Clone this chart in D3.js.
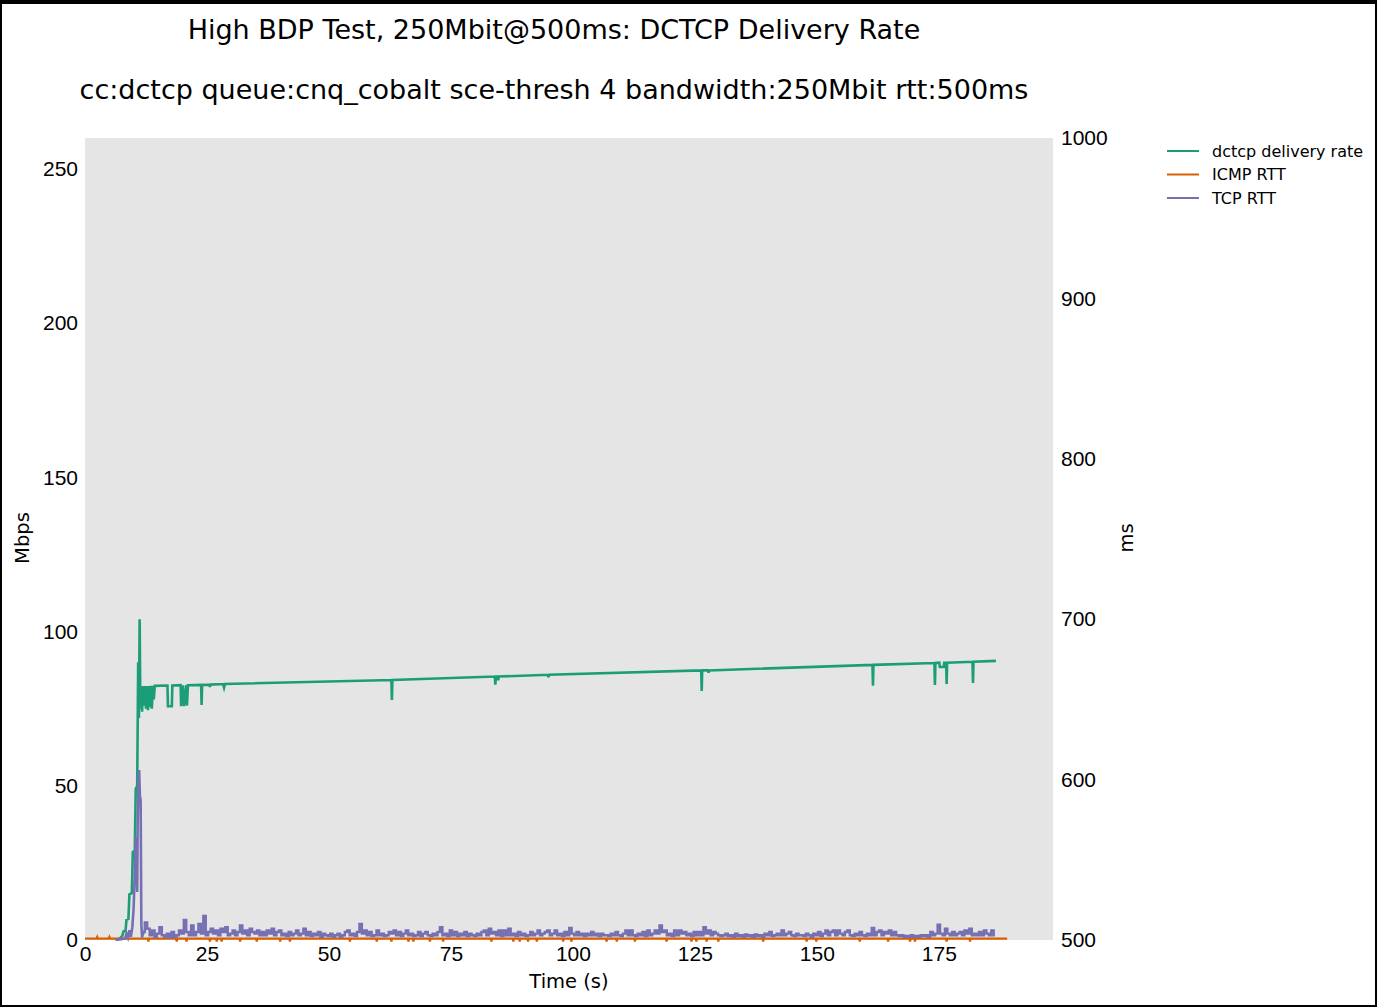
<!DOCTYPE html>
<html>
<head>
<meta charset="utf-8">
<script src="https://cdn.jsdelivr.net/npm/d3@7"></script>
<style>
body { margin: 0; background: #fff; }
svg { display: block; font-family: "DejaVu Sans", sans-serif; }
</style>
</head>
<body>
<div id="graph"></div>
<script>
// --- data ---
var seriesNames = ["dctcp delivery rate", "ICMP RTT", "TCP RTT"];
var seriesColors = ["#1b9e77", "#d95f02", "#7570b3"];
var xTicks = [0, 25, 50, 75, 100, 125, 150, 175];
var yLeftTicks = [0, 50, 100, 150, 200, 250];
var yRightTicks = [500, 600, 700, 800, 900, 1000];

// delivery rate (Mbps), [time s, value]
var rateData = [
	[6.5,0],[7.2,0.6],[7.6,1.2],[7.9,2.8],[8.3,2.9],[8.5,6.5],[8.9,6.8],[9.1,14.8],[9.6,15.2],
	[9.8,28.5],[10.2,29],[10.4,49],[10.7,50],[10.9,90],[11.05,72],[11.2,104],[11.35,75],[11.5,82.2],
	[11.7,74],[11.9,82.3],[12.1,76],[12.3,82.3],[12.5,75],[12.7,82.3],[12.9,74.5],[13.1,82.3],
	[13.3,75.5],[13.5,82.4],[13.7,75],[13.9,82.4],[14.1,78],[14.3,82.4],
	[16.9,82.5],[17.0,75.8],[17.8,75.8],[17.9,82.5],
	[19.6,82.6],[19.7,75.8],[20.1,82.6],[20.3,75.8],[20.8,82.6],[20.9,76],[21.1,82.6],
	[23.8,82.7],[23.9,76.2],[24.0,82.7],
	[25.5,82.8],[25.6,82],[25.7,82.8],
	[28.3,83],[28.5,81.8],[28.7,83],
	[62.8,84.3],[62.9,77.8],[63.0,84.3],
	[84.0,85.4],[84.1,82.8],[84.2,85.4],[84.6,85.4],[84.7,84.2],[84.8,85.4],
	[94.9,86.0],[95.0,85.2],[95.1,86.0],
	[126.3,87.4],[126.4,80.7],[126.5,87.4],[127.7,87.4],[127.8,86.6],[127.9,87.4],
	[161.4,89.2],[161.5,82.4],[161.6,89.2],
	[174.1,89.8],[174.2,82.7],[174.3,89.8],[175.1,89.9],[175.2,88.5],[176.0,88.5],[176.1,89.9],
	[176.5,89.9],[176.6,83],[176.7,89.9],
	[181.9,90.2],[182.0,83.3],[182.1,90.2],
	[186.7,90.5]
];

// ICMP RTT (ms): flat level with short dips
var icmpStart = 0, icmpEnd = 189, icmpLevel = 500.9;
var icmpBumps = [[2.5,502],[5.0,502]];
var icmpDips = [13.0,18.8,20.8,25.6,27,28,31.8,35.2,40,42,54.3,59.8,62.8,66.3,67.3,70.7,73.4,
	83.3,87.8,89.1,90.8,92.6,98,99.7,106.9,109,112.7,119.2,124.3,125.3,127.4,129.8,139,
	147.9,149.9,158.8,164.6,169.1,170.1,176.6,181.4];
var icmpDipValue = 499;

// TCP RTT (ms): ramp-up spike, then samples every 0.5 s from 12 s
var tcpRamp = [
	[6.2,500.2],[7.5,500.5],[8.2,501],[8.5,504],[8.8,501.5],[9.1,506],[9.4,502],[9.7,508],
	[9.95,519],[10.2,540],[10.4,564],[10.55,560],[10.7,530],[10.8,575],[10.95,598],[11.1,606],
	[11.25,590],[11.4,587],[11.55,510],[11.7,501.5],[11.85,504]
];
var tcpStart = 12, tcpStep = 0.5;
var tcpValues = [
	505,511,507,503,506,502,504,508,503,502,
	504,501.5,505,502,503,506,504,512.5,505,503,
	509,503,505,510,504,515,503,505,507,504,
	506,503,507,505,508,503,504,506,503,505,
	509,504,506,503,507,505,504,506,503,505,
	503,506,504,507,503,505,506,503,504,502.5,
	505,503,504,506,503,504,507,503,505,502.5,
	504,503,505,502,504,503,502.5,504,502,503,
	504,502,503,505,506,503,504,502.5,505,510,
	504,506,503,505,502.5,503,506,503,504,502.5,
	503,505,504,506,503,505,502.5,504,506,503,
	504,502.5,503,505,502.5,504,505,503,502.5,504,
	503,505,508,503,504,502.5,506,503,505,502.5,
	504,503,505,502.5,504,503,502.5,504,503,505,
	506,503,507,504,505,503,506,502.5,506,503,
	507,503,504,502.5,505,503,504,502.5,503,505,
	503,504,506,503,504,505,506,503,504,506,
	503,504,502.5,505,503,507.5,504,503,505,503,
	504,502.5,504,503,505,503,504,502.5,504,503,
	503,502.5,504,503,505,503,502.5,504,506,503,
	506,503,502.5,504,503,505,502.5,506,503,504,
	506,504,509,505,506,503,504,502.5,506,503,
	506,504,505,503,504,502.5,505,503,505,503,
	508,504,506,503,505,504,503,502.5,503,504,
	502.5,503,502,504,502.5,503,502,503.5,502.5,503,
	502,503.5,502.5,503,502,504,503,505,502.5,503,
	504,503,506,503,504,505,503,502.5,504,503,
	503,502.5,504,503,502,504,503,505,502.5,504,
	506,503,505,506,503,506,504,503,505,506,
	503,502.5,504,503,505,503,502.5,504,503,507.5,
	503,505,506,503,505,504,506,503,505,503,
	502.5,503,502,502.5,502,503,502,502.5,502,503,
	502.5,503,502,505,503,504,509.5,504,503,507,
	504,503,505,503,504,505,503,506,504,507,
	503,504,503,505,503,506,504,503,506,503
];

// --- build the point tables ---
var icmpData = [[icmpStart, icmpLevel]];
icmpBumps.concat(icmpDips.map(function(t) { return [t, icmpDipValue]; }))
	.sort(function(a, b) { return a[0] - b[0]; })
	.forEach(function(d) {
		icmpData.push([d[0] - 0.15, icmpLevel], d, [d[0] + 0.15, icmpLevel]);
	});
icmpData.push([icmpEnd, icmpLevel]);

var tcpData = tcpRamp.concat(tcpValues.map(function(v, i) { return [tcpStart + i * tcpStep, v]; }));

// --- layout ---
var W = 1377, H = 1007;
var plot = {left: 85, right: 1053, top: 138, bottom: 940};

var svg = d3.select("#graph").append("svg").attr("width", W).attr("height", H);

svg.append("rect").attr("x", 1).attr("y", 1).attr("width", W - 2).attr("height", H - 2)
	.attr("fill", "#fff").attr("stroke", "#000").attr("stroke-width", 2);
svg.append("rect").attr("x", 0).attr("y", 0).attr("width", W).attr("height", 4).attr("fill", "#000");

var x = d3.scaleLinear().domain([0, 198.4]).range([plot.left, plot.right]);
var yL = d3.scaleLinear().domain([0, 260]).range([plot.bottom, plot.top]);
var yR = d3.scaleLinear().domain([500, 1000]).range([plot.bottom, plot.top]);

svg.append("rect")
	.attr("x", plot.left).attr("y", plot.top)
	.attr("width", plot.right - plot.left).attr("height", plot.bottom - plot.top)
	.attr("fill", "#e5e5e5");

// axes: labels only, no lines or ticks
function bare(g) {
	g.select(".domain").remove();
	g.selectAll(".tick line").remove();
	g.selectAll(".tick text").attr("fill", "#000").attr("font-size", 21);
}

svg.append("g").attr("transform", "translate(0," + plot.bottom + ")")
	.call(d3.axisBottom(x).tickValues(xTicks).tickSize(0).tickPadding(6))
	.call(bare);
svg.append("g").attr("transform", "translate(" + plot.left + ",0)")
	.call(d3.axisLeft(yL).tickValues(yLeftTicks).tickSize(0).tickPadding(7))
	.call(bare);
svg.append("g").attr("transform", "translate(" + plot.right + ",0)")
	.call(d3.axisRight(yR).tickValues(yRightTicks).tickFormat(d3.format("d")).tickSize(0).tickPadding(8))
	.call(bare);

// lines
var lineL = d3.line().x(function(d) { return x(d[0]); }).y(function(d) { return yL(d[1]); });
var lineR = d3.line().x(function(d) { return x(d[0]); }).y(function(d) { return yR(d[1]); });
var stepR = d3.line().curve(d3.curveStep)
	.x(function(d) { return x(d[0]); }).y(function(d) { return yR(d[1]); });

svg.append("path").datum(rateData).attr("d", lineL)
	.attr("fill", "none").attr("stroke", seriesColors[0]).attr("stroke-width", 2.6);
svg.append("path").datum(icmpData).attr("d", lineR)
	.attr("fill", "none").attr("stroke", seriesColors[1]).attr("stroke-width", 2.2);
svg.append("path").datum(tcpRamp).attr("d", lineR)
	.attr("fill", "none").attr("stroke", seriesColors[2]).attr("stroke-width", 2.6);
svg.append("path").datum(tcpData.slice(tcpRamp.length - 1)).attr("d", stepR)
	.attr("fill", "none").attr("stroke", seriesColors[2]).attr("stroke-width", 2.4);

// titles
svg.append("text").attr("x", 554).attr("y", 39).attr("text-anchor", "middle")
	.attr("font-size", 27).text("High BDP Test, 250Mbit@500ms: DCTCP Delivery Rate");
svg.append("text").attr("x", 554).attr("y", 99).attr("text-anchor", "middle")
	.attr("font-size", 27).text("cc:dctcp queue:cnq_cobalt sce-thresh 4 bandwidth:250Mbit rtt:500ms");

svg.append("text").attr("x", 569).attr("y", 988).attr("text-anchor", "middle")
	.attr("font-size", 19.5).text("Time (s)");
svg.append("text").attr("transform", "translate(29,538) rotate(-90)").attr("text-anchor", "middle")
	.attr("font-size", 19.5).text("Mbps");
svg.append("text").attr("transform", "translate(1133,538) rotate(-90)").attr("text-anchor", "middle")
	.attr("font-size", 19.5).text("ms");

// legend
var legend = svg.append("g").attr("transform", "translate(1167,151)");
seriesNames.forEach(function(name, i) {
	var row = legend.append("g").attr("transform", "translate(0," + i * 23.5 + ")");
	row.append("line").attr("x1", 0).attr("x2", 32).attr("y1", 0).attr("y2", 0)
		.attr("stroke", seriesColors[i]).attr("stroke-width", 2);
	row.append("text").attr("x", 45).attr("y", 5.5).attr("font-size", 16).text(name);
});
</script>
</body>
</html>
